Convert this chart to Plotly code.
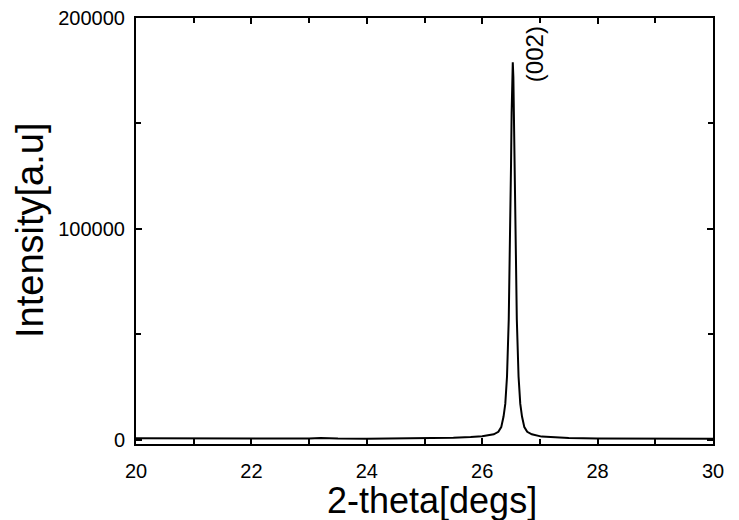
import plotly.graph_objects as go

two_theta = [20.0, 20.5, 21.0, 21.5, 22.0, 22.5, 23.0, 23.2, 23.5, 24.0, 24.5, 25.0, 25.5, 25.8, 26.0, 26.2, 26.28,
             26.33, 26.37, 26.40, 26.43, 26.46, 26.48, 26.50, 26.51, 26.52, 26.53, 26.54, 26.55, 26.56, 26.58,
             26.60, 26.63, 26.66, 26.69, 26.73, 26.78, 26.86, 27.03, 27.3, 27.5, 28.0, 28.5, 29.0, 29.5, 30.0]
intensity = [700, 650, 550, 500, 600, 550, 650, 900, 600, 500, 600, 700, 1000, 1300, 1700, 2600, 3800,
             6000, 11000, 17000, 30000, 57000, 88000, 131000, 155000, 172000, 179000, 172000, 155000, 131000, 88000,
             57000, 30000, 17000, 11000, 6000, 3800, 2600, 1500, 1000, 800, 600, 500, 550, 450, 450]

peak_label = "(002)"
peak_pos = 26.92
peak_label_y = 183000

x_title = "2-theta[degs]"
y_title = "Intensity[a.u]"

font = "Liberation Sans, Arial, sans-serif"

fig = go.Figure()
fig.add_trace(go.Scatter(x=two_theta, y=intensity, mode="lines",
                         line=dict(color="black", width=2), showlegend=False))

fig.add_annotation(x=peak_pos, y=peak_label_y, text=peak_label, textangle=-90,
                   showarrow=False, font=dict(family=font, size=24, color="black"))

fig.add_annotation(xref="paper", yref="paper", x=0.5, y=0, xshift=7, yshift=-34, xanchor="center", yanchor="top",
                   text=x_title, showarrow=False, font=dict(family=font, size=36, color="black"))
fig.add_annotation(xref="paper", yref="paper", x=0, y=0.5, xshift=-106, xanchor="center", yanchor="middle",
                   text=y_title, textangle=-90, showarrow=False, font=dict(family=font, size=38, color="black"))

axis_common = dict(showline=True, linecolor="black", linewidth=2, mirror="ticks",
                   ticks="inside", ticklen=6, tickwidth=1.5, tickcolor="black",
                   showgrid=False, zeroline=False, automargin=False,
                   tickfont=dict(family=font, size=20, color="black"))

fig.update_xaxes(range=[20, 30], tickvals=[20, 22, 24, 26, 28, 30],
                 minor=dict(tickvals=[21, 23, 25, 27, 29], ticks="inside", ticklen=5, tickcolor="black", tickwidth=1.5),
                 ticklabelstandoff=8,
                 **axis_common)
fig.update_yaxes(range=[-2000, 200000], tickvals=[0, 100000, 200000], tickformat="d",
                 minor=dict(tickvals=[50000, 150000], ticks="inside", ticklen=5, tickcolor="black", tickwidth=1.5),
                 ticklabelstandoff=5,
                 **axis_common)

fig.update_layout(width=739, height=520, margin=dict(l=136, r=26, t=18, b=76),
                  plot_bgcolor="white", paper_bgcolor="white")

fig.write_html("out.html")
